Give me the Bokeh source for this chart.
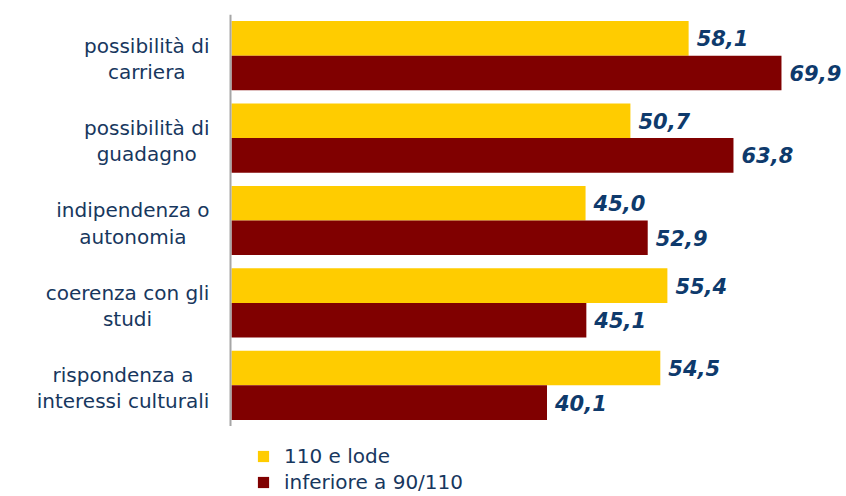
from bokeh.plotting import figure
from bokeh.layouts import column
from bokeh.models import FactorRange, Range1d, ColumnDataSource, Span, Legend, LegendItem
from bokeh.transform import dodge
from bokeh.core.properties import value
from bokeh.embed import file_html
from bokeh.resources import INLINE

# ---- data ----
categories = [
    "possibilità di\ncarriera",
    "possibilità di\nguadagno",
    "indipendenza o\nautonomia",
    "coerenza con gli\nstudi",
    "rispondenza a\ninteressi culturali",
]
series_names = ["110 e lode", "inferiore a 90/110"]
lode = [58.1, 50.7, 45.0, 55.4, 54.5]
inferiore = [69.9, 63.8, 52.9, 45.1, 40.1]

# ---- style ----
W = 846
TOP = 14
FRAME_H = 412
H_MAIN = TOP + FRAME_H
H_LEG = 496 - H_MAIN
AXIS_PX = 231
PX_PER_UNIT = 7.868
YELLOW = "#FFCC00"
MAROON = "#800000"
LABEL_COLOR = "#17375E"
VALUE_COLOR = "#0E3A6C"
FONT = "DejaVu Sans"
CAT_SIZE = 20
LABEL_RIGHT_PX = -22

# approximate DejaVu Sans advance widths (em)
CHAR_EM = {" ": .318, "a": .613, "à": .613, "b": .635, "c": .550, "d": .635, "e": .615,
           "g": .635, "i": .278, "l": .278, "m": .974, "n": .634, "o": .612, "p": .635,
           "r": .411, "s": .521, "t": .392, "u": .634, "z": .525}


def text_px(s, size):
    return sum(CHAR_EM.get(c, 0.6) for c in s) * size


def fmt(v):
    return f"{v:.1f}".replace(".", ",")


label_x = [(LABEL_RIGHT_PX - max(text_px(l, CAT_SIZE) for l in c.split("\n")) / 2) / PX_PER_UNIT
           for c in categories]

source = ColumnDataSource(dict(
    cat=categories,
    lode=lode,
    inf=inferiore,
    lode_lbl=[fmt(v) for v in lode],
    inf_lbl=[fmt(v) for v in inferiore],
    lx=label_x,
))

p = figure(width=W, height=H_MAIN, output_backend="svg", toolbar_location=None,
           x_range=Range1d(-AXIS_PX / PX_PER_UNIT, (W - AXIS_PX) / PX_PER_UNIT),
           y_range=FactorRange(*reversed(categories), range_padding=0),
           x_axis_location=None, y_axis_location=None,
           min_border_left=0, min_border_right=0, min_border_top=TOP, min_border_bottom=0)
p.grid.visible = False
p.outline_line_color = None

r1 = p.hbar(y=dodge("cat", 0.21, range=p.y_range), left=0, right="lode", height=0.42,
            fill_color=YELLOW, line_color=None, source=source)
r2 = p.hbar(y=dodge("cat", -0.21, range=p.y_range), left=0, right="inf", height=0.42,
            fill_color=MAROON, line_color=None, source=source)

common = dict(text_align="left", text_baseline="middle", x_offset=8,
              text_font=value(FONT), text_font_style="bold italic",
              text_font_size="21px", text_color=VALUE_COLOR, source=source)
p.text(x="lode", y=dodge("cat", 0.21, range=p.y_range), text="lode_lbl", **common)
p.text(x="inf", y=dodge("cat", -0.21, range=p.y_range), text="inf_lbl", **common)

p.text(x="lx", y="cat", text="cat", text_align="center", text_baseline="middle",
       y_offset=3, text_line_height=1.1, text_font=value(FONT),
       text_font_size=f"{CAT_SIZE}px", text_color=LABEL_COLOR, source=source)

p.add_layout(Span(location=-1.0 / PX_PER_UNIT, dimension="height",
                  line_color="#A6A6A6", line_width=2))

# ---- legend strip ----
q = figure(width=W, height=H_LEG, output_backend="svg", toolbar_location=None,
           x_range=Range1d(0, 1), y_range=FactorRange(*reversed(categories)),
           x_axis_location=None, y_axis_location=None,
           min_border_left=0, min_border_right=0, min_border_top=0, min_border_bottom=0)
q.grid.visible = False
q.outline_line_color = None
l1 = q.hbar(y="cat", left=0, right="lode", height=0.42, fill_color=YELLOW,
            line_color=None, source=source, visible=False)
l2 = q.hbar(y="cat", left=0, right="inf", height=0.42, fill_color=MAROON,
            line_color=None, source=source, visible=False)

legend = Legend(items=[LegendItem(label=value(series_names[0]), renderers=[l1]),
                       LegendItem(label=value(series_names[1]), renderers=[l2])],
                location=(256, 2), orientation="vertical", padding=0, spacing=2, margin=0,
                glyph_width=14, glyph_height=14, label_standoff=14,
                label_text_font=FONT, label_text_font_size="20px",
                label_text_color=LABEL_COLOR, border_line_color=None,
                background_fill_alpha=0)
q.add_layout(legend)

layout = column(p, q, spacing=0)
open("out.html", "w").write(file_html(layout, INLINE))
